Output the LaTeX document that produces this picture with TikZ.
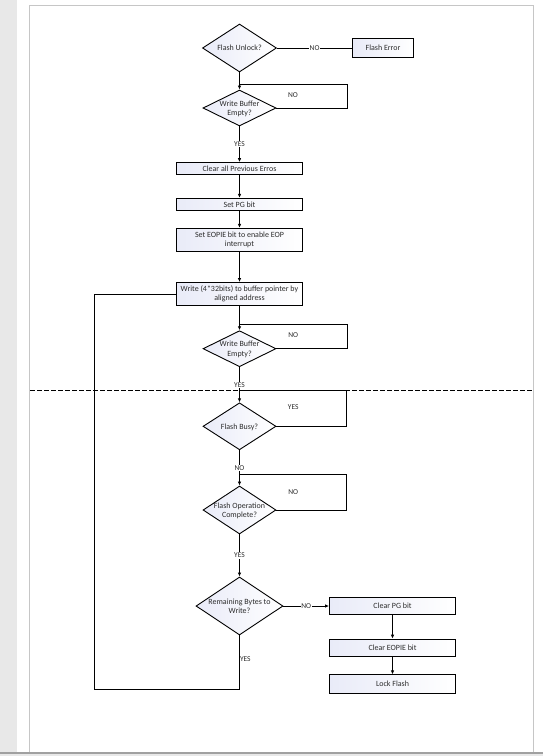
\documentclass[tikz,border=0pt]{standalone}
\usepackage{fontspec}
\setmainfont{Carlito}
\usetikzlibrary{shapes.geometric,arrows.meta}
\definecolor{fillL}{RGB}{233,235,248}
\definecolor{txtc}{RGB}{45,45,45}
\definecolor{pageline}{RGB}{198,198,198}
\definecolor{sidegray}{RGB}{232,232,232}
\definecolor{bottomline}{RGB}{160,160,160}
\newcommand{\dtext}[1]{\smash{\makebox[0pt]{\raisebox{-0.75ex}{\begin{tabular}{@{}c@{}}#1\end{tabular}}}}}
\begin{document}
\begin{tikzpicture}[x=1bp,y=-1bp, font=\fontsize{8}{9.5}\selectfont,
  box/.style={draw, line width=0.9bp, rectangle, inner sep=0pt, minimum width=126bp, left color=fillL, right color=white, text=txtc, align=center},
  dia/.style={draw, line width=0.9bp, diamond, inner sep=0pt, minimum width=73bp, minimum height=36bp, left color=fillL, right color=white, text=txtc},
  conn/.style={line width=0.9bp},
  arr/.style={conn, -{Latex[length=4bp,width=3.5bp]}},
  lbl/.style={fill=white, inner sep=0.6bp, text=txtc, font=\fontsize{7.5}{9}\selectfont}]
\useasboundingbox (0,0) rectangle (543,756);
\fill[white] (0,0) rectangle (543,756);
\fill[sidegray] (0,0) rectangle (17,756);
\draw[pageline, line width=1bp] (29,756) -- (29,6) -- (533,6) -- (533,756);
\fill[sidegray] (0,753) rectangle (543,756);
\draw[bottomline, line width=1.2bp] (0,753) -- (543,753);
% dashed separator
\draw[line width=0.8bp, dash pattern=on 4.5bp off 2.5bp] (30,390) -- (533,390);

% nodes
\node[dia, minimum width=74bp, minimum height=48bp] (unlock) at (239.5,48) {\dtext{Flash Unlock?}};
\node[box, minimum width=60.6bp, minimum height=18.3bp] (ferr) at (383,48) {Flash Error};
\node[dia] (wbe1) at (239.5,108) {\dtext{Write Buffer\\Empty?}};
\node[box, minimum height=11.7bp] (clr) at (239.5,168.5) {Clear all Previous Erros};
\node[box, minimum height=12.3bp] (pg) at (239.5,204.5) {Set PG bit};
\node[box, minimum height=23.3bp] (eopie) at (239.5,240) {Set EOPIE bit to enable EOP\\interrupt};
\node[box, minimum height=23bp] (wr) at (239.5,294) {Write (4*32bits) to buffer pointer by\\aligned address};
\node[dia] (wbe2) at (239.5,348.7) {\dtext{Write Buffer\\Empty?}};
\node[dia, minimum height=47bp] (busy) at (239.5,426.3) {\dtext{Flash Busy?}};
\node[dia, minimum height=48bp] (op) at (239.5,510) {\dtext{Flash Operation\\Complete?}};
\node[dia, minimum width=87bp, minimum height=58bp] (rem) at (239.5,606) {\dtext{Remaining Bytes to\\Write?}};
\node[box, minimum height=17.7bp] (cpg) at (392.5,606) {Clear PG bit};
\node[box, minimum height=17.7bp] (ceop) at (392.5,648) {Clear EOPIE bit};
\node[box, minimum height=18.3bp] (lock) at (392.5,684) {Lock Flash};

% loop coordinates
\coordinate (a1) at (347.7,108);
\coordinate (a2) at (347.7,84.3);
\coordinate (a3) at (239.5,84.3);
\coordinate (b1) at (347.7,348.7);
\coordinate (b2) at (347.7,324.3);
\coordinate (b3) at (239.5,324.3);
\coordinate (c1) at (346.7,426.3);
\coordinate (c2) at (346.7,390);
\coordinate (c3) at (239.5,390);
\coordinate (d1) at (346.7,510);
\coordinate (d2) at (346.7,474.3);
\coordinate (d3) at (239.5,474.3);
\coordinate (r1) at (239.5,689);
\coordinate (r2) at (94.3,689);
\coordinate (r3) at (94.3,294);

% connectors
\draw[conn] (unlock.east) -- node[lbl] (no0) {NO} (ferr.west);
\draw[arr] (unlock.south) -- (wbe1.north);
\draw[conn] (wbe1.east) -- (a1) -- (a2) -- (a3);
\node[lbl, fill=none] (no1) at (293,95.3) {NO};
\draw[arr] (wbe1.south) -- node[lbl] (yes1) {YES} (clr.north);
\draw[arr] (clr) -- (pg);
\draw[arr] (pg) -- (eopie);
\draw[arr] (eopie) -- (wr);
\draw[arr] (wr) -- (wbe2.north);
\draw[conn] (wbe2.east) -- (b1) -- (b2) -- (b3);
\node[lbl, fill=none] (no2) at (293.3,335) {NO};
\draw[arr] (wbe2.south) -- node[lbl] (yes2) {YES} (busy.north);
\draw[conn] (busy.east) -- (c1) -- (c2) -- (c3);
\node[lbl, fill=none] (yes3) at (293.3,407.3) {YES};
\draw[arr] (busy.south) -- node[lbl] (no3) {NO} (op.north);
\draw[conn] (op.east) -- (d1) -- (d2) -- (d3);
\node[lbl, fill=none] (no4) at (293.3,491.7) {NO};
\draw[arr] (op.south) -- node[lbl] (yes4) {YES} (rem.north);
\draw[arr] (rem.east) -- node[lbl] (no5) {NO} (cpg.west);
\draw[arr] (cpg) -- (ceop);
\draw[arr] (ceop) -- (lock);
\draw[conn] (rem.south) -- (r1) -- (r2) -- (r3) -- (wr.west);
\node[lbl, fill=none, anchor=west, inner sep=0.3bp] (yes5) at (239.5,659) {YES};
\end{tikzpicture}
\end{document}
